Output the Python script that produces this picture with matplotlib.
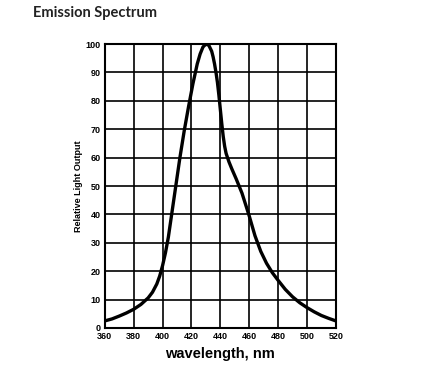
import matplotlib
matplotlib.use("Agg")
import matplotlib.pyplot as plt

# emission spectrum
wavelength = [360, 365, 370, 375, 380, 385, 390, 393, 396, 398, 400, 402, 404,
              406, 409, 412, 415, 418, 421, 424, 426, 428, 430, 432, 434, 435,
              436, 437, 438, 439, 440, 441, 442, 443, 444, 446, 448, 451, 455,
              460, 464, 468, 472, 476, 480, 485, 490, 495, 500, 505, 510, 515,
              520]
output = [2.5, 3.2, 4.2, 5.3, 6.6, 8.3, 10.6, 12.6, 15.5, 18.3, 22, 26.5, 32,
          39, 49.5, 60, 69.5, 78, 86, 93, 96.5, 99, 100, 99.6, 97.5, 95.5,
          93, 90, 86.5, 82, 77, 72, 67.5, 64, 61.5, 58.5, 56, 52.5, 47.5,
          39.5, 32.5, 27, 22.8, 19.5, 16.8, 13.6, 11, 8.9, 7.2, 5.7, 4.4, 3.4,
          2.5]

xticks = list(range(360, 521, 20))
yticks = list(range(0, 101, 10))

fig = plt.figure(figsize=(4.35, 3.77), dpi=100)
ax = fig.add_axes([0.241, 0.130, 0.531, 0.753])

ax.plot(wavelength, output, color="black", lw=2.4, solid_capstyle="round",
        solid_joinstyle="round", zorder=3)

ax.set_xlim(360, 520)
ax.set_ylim(0, 100)
ax.set_xticks(xticks)
ax.set_yticks(yticks)
ax.grid(True, color="black", lw=1.2)
for s in ax.spines.values():
    s.set_linewidth(1.5)
ax.tick_params(length=0, pad=3, labelsize=6.5)
for lab in ax.get_xticklabels() + ax.get_yticklabels():
    lab.set_fontweight("bold")
    lab.set_family("Liberation Sans")

ax.set_xlabel("wavelength, nm", fontsize=10.5, fontweight="bold",
              family="Liberation Sans", labelpad=4)
ax.set_ylabel("Relative Light Output", fontsize=6.5, fontweight="bold",
              family="Liberation Sans", labelpad=2)

fig.text(0.076, 0.985, "Emission Spectrum", fontsize=10.5, fontweight="bold",
         family="Lato", color="#222222", va="top", ha="left")

fig.savefig("out.png", dpi=100)
